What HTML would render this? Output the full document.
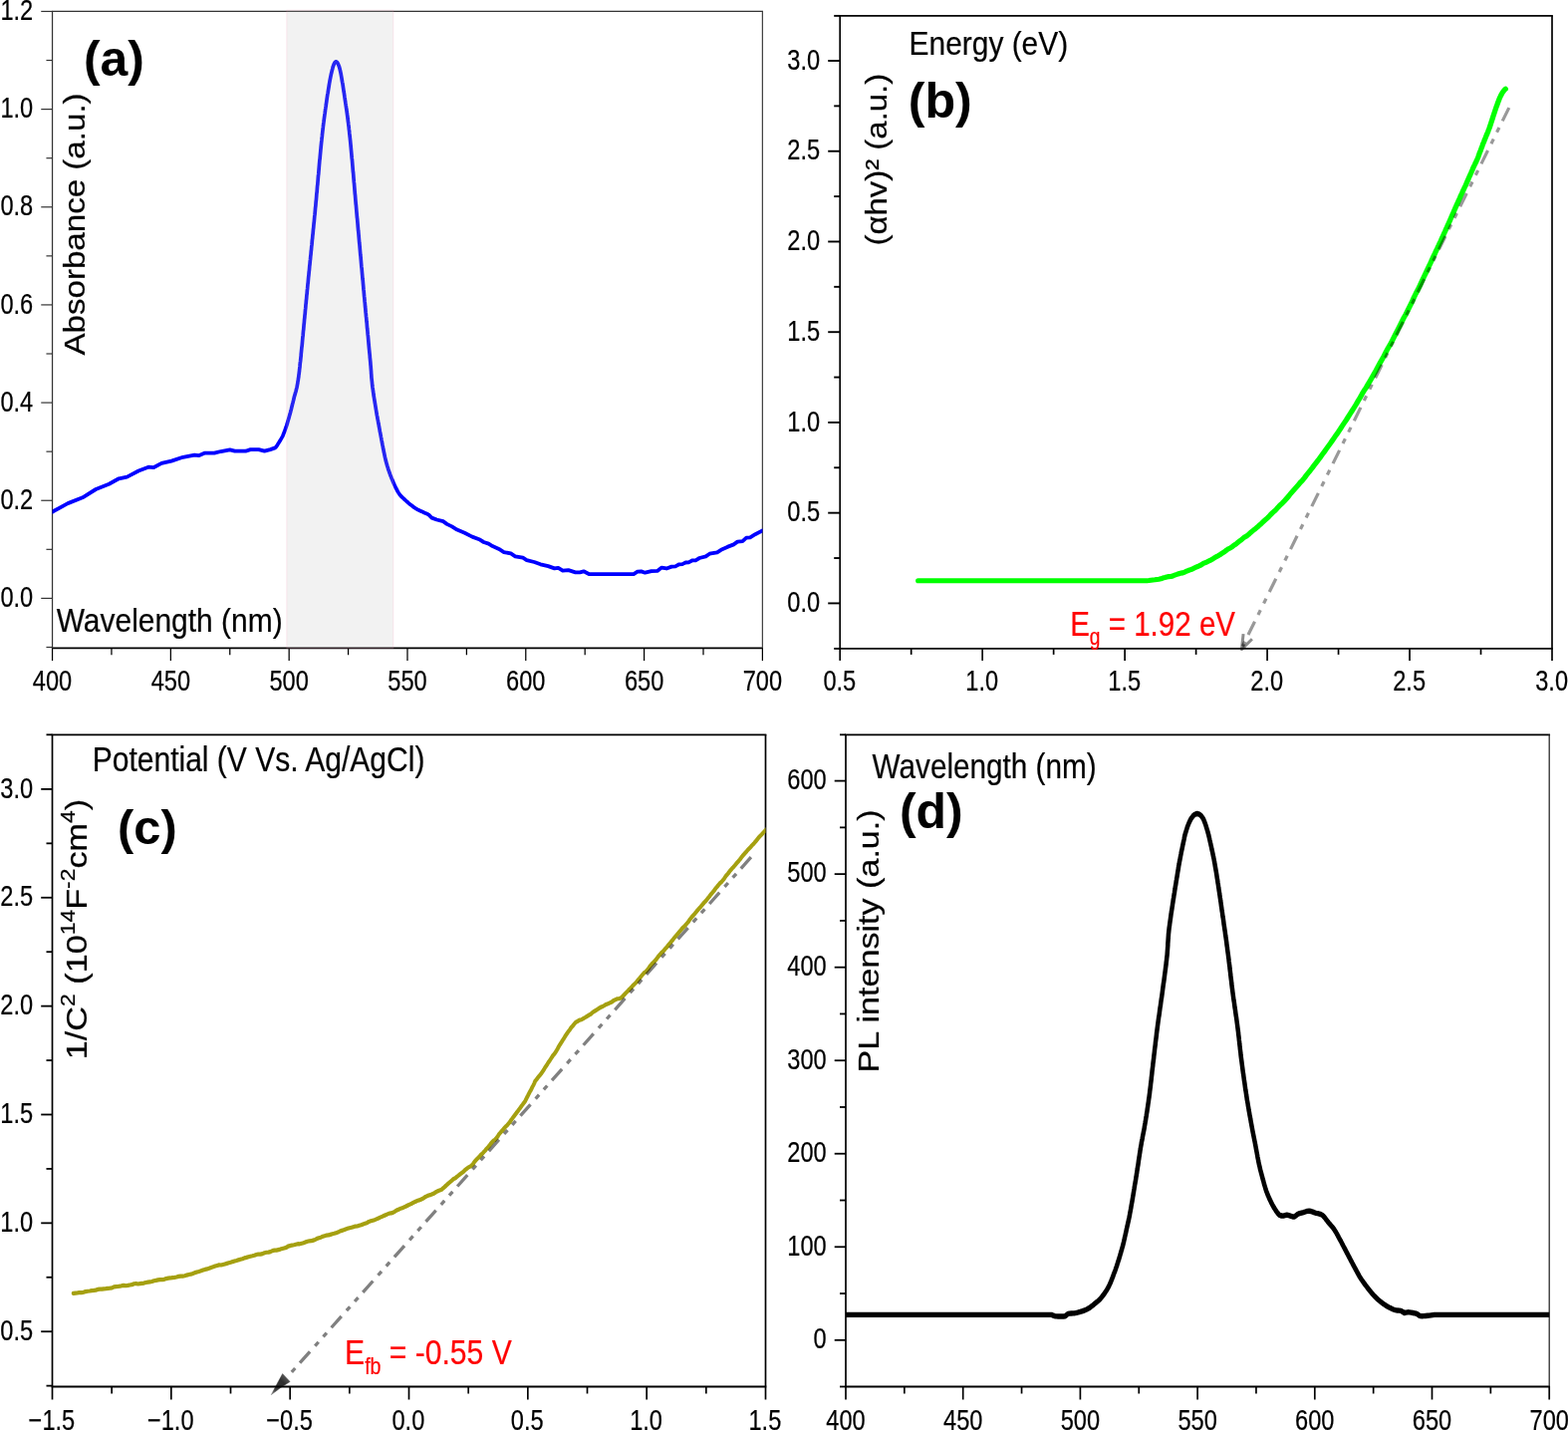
<!DOCTYPE html>
<html lang="en">
<head>
<meta charset="utf-8">
<title>Figure: optical and electrochemical characterisation</title>
<style>
html,body{margin:0;padding:0;background:#fff;}
body{width:1574px;height:1435px;overflow:hidden;}
svg{display:block;font-family:"Liberation Sans", sans-serif;}
text{stroke-linejoin:round;}
</style>
</head>
<body>
<svg width="1574" height="1435" viewBox="0 0 1574 1435">
<defs>
<clipPath id="ca"><rect x="52.55" y="11.45" width="712.85" height="639.00"/></clipPath>
<linearGradient id="ah" gradientUnits="userSpaceOnUse" x1="272.2" y1="1399.7" x2="287.4" y2="1382.4"><stop offset="0" stop-color="#8a8a8a"/><stop offset="0.3" stop-color="#3a3a3a"/><stop offset="0.75" stop-color="#2e2e2e"/><stop offset="1" stop-color="#555"/></linearGradient>
<clipPath id="cc"><rect x="52.50" y="737.30" width="716.00" height="654.20"/></clipPath>
<clipPath id="cd"><rect x="849.00" y="737.30" width="706.20" height="654.20"/></clipPath>
</defs>
<rect width="1574" height="1435" fill="#fff"/>
<path d="M1248.1,636.2 L1246.4,651.6 L1256.9,641.3" fill="none" stroke="#8c8c8c" stroke-width="3" stroke-linejoin="round" stroke-linecap="butt"/>
<path d="M1247.2,645.5 L1246.5,652.6 L1250.6,648.0 Z" fill="#666" stroke="none"/>
<path d="M272.2,1399.7 L283.6,1378.6 L291.1,1386.5 L281.6,1392.6 Z" fill="url(#ah)" stroke="url(#ah)" stroke-width="0.5" stroke-linejoin="round"/>
<line x1="51.92" y1="11.45" x2="766.02" y2="11.45" stroke="#333" stroke-width="1.2"/>
<line x1="51.92" y1="650.45" x2="766.02" y2="650.45" stroke="#000" stroke-width="1.7"/>
<line x1="52.55" y1="11.45" x2="52.55" y2="650.45" stroke="#333" stroke-width="1.25"/>
<line x1="765.40" y1="11.45" x2="765.40" y2="650.45" stroke="#444" stroke-width="1.25"/>
<line x1="46.45" y1="649.48" x2="52.55" y2="649.48" stroke="#333" stroke-width="1.2"/>
<line x1="41.25" y1="600.40" x2="52.55" y2="600.40" stroke="#333" stroke-width="1.2"/>
<text transform="translate(33.25,609.00) scale(0.82,1)" font-size="28.8" text-anchor="end" fill="#000" stroke="#000" stroke-width="0.22">0.0</text>
<line x1="46.45" y1="551.32" x2="52.55" y2="551.32" stroke="#333" stroke-width="1.2"/>
<line x1="41.25" y1="502.24" x2="52.55" y2="502.24" stroke="#333" stroke-width="1.2"/>
<text transform="translate(33.25,510.84) scale(0.82,1)" font-size="28.8" text-anchor="end" fill="#000" stroke="#000" stroke-width="0.22">0.2</text>
<line x1="46.45" y1="453.16" x2="52.55" y2="453.16" stroke="#333" stroke-width="1.2"/>
<line x1="41.25" y1="404.08" x2="52.55" y2="404.08" stroke="#333" stroke-width="1.2"/>
<text transform="translate(33.25,412.68) scale(0.82,1)" font-size="28.8" text-anchor="end" fill="#000" stroke="#000" stroke-width="0.22">0.4</text>
<line x1="46.45" y1="355.00" x2="52.55" y2="355.00" stroke="#333" stroke-width="1.2"/>
<line x1="41.25" y1="305.92" x2="52.55" y2="305.92" stroke="#333" stroke-width="1.2"/>
<text transform="translate(33.25,314.52) scale(0.82,1)" font-size="28.8" text-anchor="end" fill="#000" stroke="#000" stroke-width="0.22">0.6</text>
<line x1="46.45" y1="256.85" x2="52.55" y2="256.85" stroke="#333" stroke-width="1.2"/>
<line x1="41.25" y1="207.77" x2="52.55" y2="207.77" stroke="#333" stroke-width="1.2"/>
<text transform="translate(33.25,216.37) scale(0.82,1)" font-size="28.8" text-anchor="end" fill="#000" stroke="#000" stroke-width="0.22">0.8</text>
<line x1="46.45" y1="158.69" x2="52.55" y2="158.69" stroke="#333" stroke-width="1.2"/>
<line x1="41.25" y1="109.61" x2="52.55" y2="109.61" stroke="#333" stroke-width="1.2"/>
<text transform="translate(33.25,118.21) scale(0.82,1)" font-size="28.8" text-anchor="end" fill="#000" stroke="#000" stroke-width="0.22">1.0</text>
<line x1="46.45" y1="60.53" x2="52.55" y2="60.53" stroke="#333" stroke-width="1.2"/>
<line x1="41.25" y1="11.45" x2="52.55" y2="11.45" stroke="#333" stroke-width="1.2"/>
<text transform="translate(33.25,20.05) scale(0.82,1)" font-size="28.8" text-anchor="end" fill="#000" stroke="#000" stroke-width="0.22">1.2</text>
<line x1="52.55" y1="650.45" x2="52.55" y2="663.05" stroke="#000" stroke-width="1.25"/>
<text transform="translate(52.55,692.55) scale(0.82,1)" font-size="28.8" text-anchor="middle" fill="#000" stroke="#000" stroke-width="0.22">400</text>
<line x1="111.95" y1="650.45" x2="111.95" y2="657.25" stroke="#000" stroke-width="1.25"/>
<line x1="171.36" y1="650.45" x2="171.36" y2="663.05" stroke="#000" stroke-width="1.25"/>
<text transform="translate(171.36,692.55) scale(0.82,1)" font-size="28.8" text-anchor="middle" fill="#000" stroke="#000" stroke-width="0.22">450</text>
<line x1="230.76" y1="650.45" x2="230.76" y2="657.25" stroke="#000" stroke-width="1.25"/>
<line x1="290.17" y1="650.45" x2="290.17" y2="663.05" stroke="#000" stroke-width="1.25"/>
<text transform="translate(290.17,692.55) scale(0.82,1)" font-size="28.8" text-anchor="middle" fill="#000" stroke="#000" stroke-width="0.22">500</text>
<line x1="349.57" y1="650.45" x2="349.57" y2="657.25" stroke="#000" stroke-width="1.25"/>
<line x1="408.98" y1="650.45" x2="408.98" y2="663.05" stroke="#000" stroke-width="1.25"/>
<text transform="translate(408.98,692.55) scale(0.82,1)" font-size="28.8" text-anchor="middle" fill="#000" stroke="#000" stroke-width="0.22">550</text>
<line x1="468.38" y1="650.45" x2="468.38" y2="657.25" stroke="#000" stroke-width="1.25"/>
<line x1="527.78" y1="650.45" x2="527.78" y2="663.05" stroke="#000" stroke-width="1.25"/>
<text transform="translate(527.78,692.55) scale(0.82,1)" font-size="28.8" text-anchor="middle" fill="#000" stroke="#000" stroke-width="0.22">600</text>
<line x1="587.19" y1="650.45" x2="587.19" y2="657.25" stroke="#000" stroke-width="1.25"/>
<line x1="646.59" y1="650.45" x2="646.59" y2="663.05" stroke="#000" stroke-width="1.25"/>
<text transform="translate(646.59,692.55) scale(0.82,1)" font-size="28.8" text-anchor="middle" fill="#000" stroke="#000" stroke-width="0.22">650</text>
<line x1="706.00" y1="650.45" x2="706.00" y2="657.25" stroke="#000" stroke-width="1.25"/>
<line x1="765.40" y1="650.45" x2="765.40" y2="663.05" stroke="#000" stroke-width="1.25"/>
<text transform="translate(765.40,692.55) scale(0.82,1)" font-size="28.8" text-anchor="middle" fill="#000" stroke="#000" stroke-width="0.22">700</text>
<g clip-path="url(#ca)"><polyline transform="scale(1,1.03)" points="51.0,499.61 53.2,498.35 68.1,490.39 82.9,484.76 96.2,476.70 109.4,471.55 119.3,466.31 127.5,464.66 139.1,458.74 149.0,455.05 154.0,455.53 162.2,451.36 172.1,449.13 183.7,445.44 195.3,443.40 199.4,443.88 205.2,441.46 215.1,441.46 221.7,439.81 230.8,438.25 235.7,439.51 246.5,439.51 251.4,437.96 259.7,437.96 265.5,439.51 271.3,437.96 276.2,436.31 277.0,435.55 277.7,434.59 278.5,433.51 279.2,432.38 279.9,431.28 280.5,430.29 281.4,428.98 282.1,427.75 282.8,426.55 283.5,425.34 284.1,424.11 284.6,422.89 285.1,421.66 285.6,420.39 286.1,419.05 286.6,417.66 287.1,416.28 287.6,414.95 288.0,413.71 288.4,412.52 288.7,411.34 289.1,410.10 289.5,408.78 289.9,407.42 290.3,406.03 290.7,404.66 291.1,403.31 291.5,401.97 291.8,400.62 292.2,399.22 292.5,398.07 292.8,396.89 293.1,395.69 293.4,394.49 293.7,393.30 294.0,392.23 294.2,391.28 294.5,390.27 294.8,389.03 295.2,387.38 295.4,386.49 295.7,385.58 296.0,384.61 296.3,383.60 296.6,382.51 297.0,381.36 297.3,380.13 297.6,378.80 298.0,377.37 298.3,375.83 298.6,374.17 298.8,373.30 298.9,372.46 299.0,371.66 299.2,370.87 299.3,370.09 299.4,369.31 299.5,368.51 299.7,367.68 299.8,366.82 299.9,365.91 300.0,364.94 300.2,363.90 300.3,362.78 300.5,361.57 300.6,360.25 300.8,358.81 301.0,357.25 301.1,355.55 301.3,353.70 301.6,351.70 301.8,349.51 301.9,348.71 302.0,347.88 302.1,347.02 302.2,346.15 302.2,345.25 302.3,344.33 302.4,343.38 302.5,342.42 302.6,341.44 302.7,340.44 302.8,339.42 302.9,338.38 303.1,337.32 303.2,336.25 303.3,335.16 303.4,334.06 303.5,332.93 303.6,331.80 303.7,330.65 303.8,329.49 303.9,328.31 304.1,327.13 304.2,325.93 304.3,324.72 304.4,323.50 304.5,322.27 304.7,321.03 304.8,319.78 304.9,318.53 305.0,317.26 305.1,315.99 305.3,314.72 305.4,313.43 305.5,312.15 305.6,310.86 305.8,309.56 305.9,308.26 306.0,306.96 306.2,305.66 306.3,304.35 306.4,303.04 306.5,301.74 306.7,300.43 306.8,299.13 306.9,297.82 307.0,296.52 307.2,295.22 307.3,293.92 307.4,292.63 307.6,291.34 307.7,290.06 307.8,288.78 307.9,287.51 308.1,286.25 308.2,284.99 308.3,283.74 308.4,282.50 308.6,281.27 308.7,280.05 308.8,278.83 308.9,277.68 309.0,276.53 309.2,275.37 309.3,274.21 309.4,273.05 309.5,271.88 309.6,270.71 309.7,269.54 309.9,268.37 310.0,267.19 310.1,266.01 310.2,264.83 310.4,263.64 310.5,262.46 310.6,261.27 310.7,260.08 310.8,258.89 311.0,257.70 311.1,256.51 311.2,255.31 311.3,254.12 311.5,252.92 311.6,251.72 311.7,250.53 311.8,249.33 312.0,248.13 312.1,246.93 312.2,245.73 312.3,244.54 312.5,243.34 312.6,242.14 312.7,240.94 312.8,239.75 313.0,238.55 313.1,237.35 313.2,236.16 313.3,234.97 313.4,233.77 313.6,232.58 313.7,231.40 313.8,230.21 313.9,229.02 314.1,227.84 314.2,226.66 314.3,225.48 314.4,224.30 314.5,223.12 314.7,221.95 314.8,220.78 314.9,219.61 315.0,218.45 315.1,217.29 315.3,216.13 315.4,214.98 315.5,213.83 315.6,212.68 315.7,211.53 315.8,210.39 316.0,209.26 316.1,208.13 316.2,207.00 316.3,205.88 316.4,204.76 316.5,203.52 316.6,202.28 316.8,201.04 316.9,199.79 317.0,198.55 317.1,197.30 317.2,196.05 317.4,194.79 317.5,193.54 317.6,192.28 317.7,191.03 317.8,189.77 317.9,188.51 318.1,187.26 318.2,186.00 318.3,184.75 318.4,183.50 318.5,182.25 318.6,181.00 318.8,179.75 318.9,178.51 319.0,177.26 319.1,176.03 319.2,174.79 319.3,173.56 319.4,172.34 319.5,171.11 319.7,169.90 319.8,168.68 319.9,167.48 320.0,166.28 320.1,165.08 320.2,163.90 320.3,162.72 320.4,161.54 320.5,160.37 320.6,159.22 320.7,158.07 320.8,156.92 320.9,155.79 321.1,154.66 321.2,153.55 321.3,152.44 321.4,151.35 321.5,150.26 321.6,149.19 321.7,148.12 321.8,147.07 321.9,146.03 322.0,145.00 322.1,143.98 322.2,142.98 322.3,141.99 322.4,141.01 322.5,140.04 322.6,139.09 322.7,138.16 322.9,136.61 323.0,135.11 323.2,133.64 323.4,132.20 323.5,130.80 323.7,129.42 323.8,128.08 324.0,126.76 324.1,125.47 324.3,124.21 324.4,122.97 324.6,121.76 324.7,120.57 324.9,119.40 325.0,118.25 325.2,117.12 325.3,116.01 325.5,114.92 325.6,113.84 325.8,112.78 325.9,111.73 326.1,110.69 326.2,109.66 326.4,108.64 326.5,107.63 326.6,106.63 326.8,105.63 326.9,104.64 327.1,103.66 327.2,102.67 327.4,101.69 327.5,100.71 327.7,99.72 327.8,98.74 328.0,97.35 328.2,95.97 328.4,94.60 328.6,93.25 328.8,91.92 329.1,90.60 329.3,89.30 329.5,88.02 329.7,86.76 329.9,85.53 330.1,84.31 330.3,83.12 330.5,81.95 330.7,80.81 330.9,79.70 331.1,78.61 331.3,77.56 331.5,76.53 331.7,75.53 331.9,74.57 332.1,73.64 332.3,72.75 332.5,71.89 332.7,71.07 333.2,69.02 333.7,67.17 334.1,65.52 334.6,64.08 335.1,62.85 335.5,61.84 336.0,61.06 336.4,60.51 336.9,60.19 337.5,60.12 338.1,60.39 338.7,61.03 339.3,62.05 339.9,63.47 340.6,65.31 341.2,67.57 341.4,68.36 341.6,69.19 341.8,70.08 342.0,71.01 342.2,71.99 342.4,73.02 342.6,74.08 342.8,75.19 343.0,76.33 343.2,77.51 343.4,78.72 343.6,79.96 343.9,81.22 344.1,82.52 344.3,83.84 344.5,85.17 344.7,86.53 344.9,87.91 345.1,89.29 345.4,90.70 345.6,92.11 345.8,93.53 346.0,94.95 346.2,95.94 346.3,96.92 346.5,97.90 346.6,98.86 346.8,99.83 346.9,100.79 347.1,101.76 347.2,102.73 347.4,103.70 347.5,104.68 347.7,105.66 347.8,106.66 348.0,107.67 348.1,108.69 348.3,109.73 348.4,110.78 348.6,111.86 348.7,112.95 348.9,114.07 349.0,115.21 349.2,116.38 349.3,117.58 349.5,118.81 349.7,120.08 349.8,121.37 350.0,122.70 350.2,124.08 350.3,125.49 350.5,126.94 350.7,128.43 350.8,129.98 351.0,131.57 351.2,133.20 351.3,134.11 351.4,135.04 351.5,135.98 351.6,136.94 351.7,137.91 351.8,138.90 351.9,139.90 352.0,140.92 352.1,141.95 352.2,143.00 352.3,144.06 352.4,145.13 352.5,146.21 352.6,147.31 352.7,148.41 352.8,149.53 352.9,150.66 353.0,151.80 353.1,152.95 353.2,154.11 353.4,155.27 353.5,156.45 353.6,157.63 353.7,158.83 353.8,160.03 353.9,161.23 354.0,162.45 354.1,163.67 354.2,164.89 354.3,166.12 354.4,167.36 354.6,168.60 354.7,169.85 354.8,171.09 354.9,172.35 355.0,173.60 355.1,174.86 355.2,176.12 355.3,177.38 355.5,178.64 355.6,179.91 355.7,181.17 355.8,182.44 355.9,183.70 356.0,184.96 356.1,186.23 356.2,187.49 356.3,188.75 356.5,190.00 356.6,191.26 356.7,192.51 356.8,193.76 356.9,195.00 357.0,196.24 357.1,197.47 357.2,198.70 357.4,199.93 357.5,201.14 357.6,202.36 357.7,203.56 357.8,204.76 357.9,205.91 358.0,207.07 358.1,208.23 358.2,209.40 358.3,210.56 358.4,211.73 358.6,212.90 358.7,214.07 358.8,215.24 358.9,216.41 359.0,217.58 359.1,218.76 359.2,219.94 359.3,221.11 359.4,222.29 359.5,223.47 359.6,224.66 359.8,225.84 359.9,227.02 360.0,228.20 360.1,229.39 360.2,230.57 360.3,231.76 360.4,232.95 360.5,234.13 360.6,235.32 360.7,236.51 360.9,237.69 361.0,238.88 361.1,240.07 361.2,241.26 361.3,242.44 361.4,243.63 361.5,244.82 361.6,246.01 361.7,247.19 361.8,248.38 362.0,249.56 362.1,250.75 362.2,251.93 362.3,253.12 362.4,254.30 362.5,255.48 362.6,256.66 362.7,257.84 362.8,259.02 362.9,260.20 363.1,261.38 363.2,262.55 363.3,263.73 363.4,264.90 363.5,266.07 363.6,267.24 363.7,268.41 363.8,269.57 363.9,270.74 364.0,271.90 364.2,273.06 364.3,274.22 364.4,275.38 364.5,276.53 364.6,277.68 364.7,278.83 364.8,280.05 364.9,281.27 365.0,282.50 365.2,283.74 365.3,284.99 365.4,286.25 365.5,287.51 365.6,288.78 365.8,290.06 365.9,291.34 366.0,292.63 366.1,293.92 366.3,295.22 366.4,296.52 366.5,297.82 366.6,299.13 366.8,300.43 366.9,301.74 367.0,303.04 367.1,304.35 367.3,305.66 367.4,306.96 367.5,308.26 367.7,309.56 367.8,310.86 367.9,312.15 368.0,313.43 368.2,314.72 368.3,315.99 368.4,317.26 368.5,318.53 368.6,319.78 368.8,321.03 368.9,322.27 369.0,323.50 369.1,324.72 369.2,325.93 369.4,327.13 369.5,328.31 369.6,329.49 369.7,330.65 369.8,331.80 369.9,332.93 370.0,334.06 370.1,335.16 370.2,336.25 370.3,337.32 370.4,338.38 370.5,339.42 370.6,340.44 370.7,341.44 370.8,342.42 370.9,343.38 371.0,344.33 371.1,345.25 371.2,346.15 371.3,347.02 371.3,347.88 371.4,348.71 371.5,349.51 371.7,351.68 371.9,353.66 372.0,355.45 372.2,357.08 372.3,358.57 372.4,359.91 372.5,361.14 372.6,362.27 372.6,363.30 372.7,364.26 372.8,365.16 372.8,366.02 372.9,366.85 372.9,367.66 373.0,368.47 373.1,369.30 373.2,370.15 373.3,371.05 373.4,372.01 373.5,373.05 373.6,374.17 373.7,375.35 373.9,376.51 374.0,377.68 374.2,378.83 374.4,379.99 374.5,381.15 374.7,382.30 374.9,383.46 375.0,384.61 375.2,385.77 375.4,386.93 375.6,388.09 375.8,389.26 376.0,390.43 376.2,391.61 376.4,392.79 376.6,393.98 376.8,395.18 377.0,396.39 377.2,397.61 377.4,398.83 377.6,399.97 377.8,401.13 378.0,402.31 378.2,403.51 378.4,404.72 378.7,405.94 378.9,407.17 379.1,408.40 379.4,409.64 379.6,410.88 379.8,412.12 380.1,413.36 380.3,414.59 380.5,415.81 380.8,417.02 381.0,418.22 381.2,419.40 381.4,420.57 381.7,421.71 381.9,422.83 382.1,423.92 382.3,424.99 382.5,426.02 382.8,427.38 383.0,428.73 383.3,430.05 383.5,431.34 383.8,432.62 384.0,433.86 384.3,435.08 384.5,436.27 384.7,437.44 385.0,438.57 385.2,439.67 385.4,440.75 385.7,441.79 385.9,442.80 386.1,443.78 386.3,444.72 386.5,445.63 386.9,447.22 387.2,448.64 387.6,449.93 387.9,451.10 388.2,452.19 388.5,453.23 388.8,454.25 389.2,455.26 389.5,456.31 389.9,457.65 390.4,458.93 390.8,460.16 391.3,461.36 391.7,462.54 392.2,463.73 392.7,464.95 393.1,466.04 393.6,467.13 394.1,468.22 394.5,469.31 395.0,470.40 395.5,471.48 396.0,472.54 396.5,473.59 397.1,474.80 397.7,476.02 398.4,477.24 399.0,478.43 399.7,479.56 400.4,480.61 401.0,481.55 401.9,482.64 402.7,483.50 403.5,484.26 404.4,485.03 405.4,485.92 406.2,486.66 407.1,487.45 408.0,488.27 409.0,489.10 409.9,489.93 410.9,490.72 411.8,491.46 412.9,492.27 413.9,493.05 414.9,493.80 416.0,494.51 417.0,495.19 418.1,495.83 419.4,496.52 420.7,497.15 422.0,497.73 423.3,498.29 424.5,498.83 425.8,499.41 427.1,500.00 428.4,500.55 429.4,501.02 430.2,501.36 433.4,504.47 438.4,506.31 444.8,507.86 448.6,510.58 453.7,513.01 458.8,516.12 466.4,519.22 474.0,522.91 481.0,525.44 485.5,528.16 490.5,529.71 494.4,532.14 502.0,535.53 505.8,537.96 512.8,539.22 517.2,542.04 524.9,543.30 528.7,545.73 536.3,547.57 542.6,549.81 550.3,551.55 556.6,553.79 560.4,553.20 564.9,556.02 570.6,555.53 577.6,557.57 582.1,557.57 585.9,556.60 591.6,559.42 636.1,559.42 639.9,556.99 643.7,556.70 647.5,557.96 653.9,556.41 660.2,556.12 664.0,553.01 669.1,553.88 674.2,552.04 678.0,551.84 681.8,549.81 685.0,549.61 688.2,548.06 691.3,547.96 695.2,545.92 698.3,545.92 702.1,543.69 708.5,542.14 712.3,539.51 719.9,538.25 723.8,535.73 730.1,532.91 736.5,530.49 740.3,527.77 745.4,527.38 749.2,523.88 753.0,523.69 758.1,520.58 764.4,517.48 767.5,515.92" fill="none" stroke="#0000ff" stroke-width="3.7" stroke-linejoin="round" stroke-linecap="round"/></g>
<rect x="287.8" y="10.2" width="107.0" height="640.2" fill="#bebebe" fill-opacity="0.2" stroke="#ff7ab0" stroke-opacity="0.16" stroke-width="1"/>
<text transform="translate(83.90,76.03) scale(1.0111,1)" font-size="49.36" fill="#000" font-weight="bold">(a)</text>
<text transform="translate(84.64,356.50) rotate(-90) scale(1.1114,1)" font-size="29.79" fill="#000" stroke="#000" stroke-width="0.22">Absorbance (a.u.)</text>
<text transform="translate(56.70,634.34) scale(0.8912,1)" font-size="33.62" fill="#000" stroke="#000" stroke-width="0.22">Wavelength (nm)</text>
<line x1="842.35" y1="15.90" x2="1558.85" y2="15.90" stroke="#000" stroke-width="1.9"/>
<line x1="842.35" y1="650.90" x2="1558.85" y2="650.90" stroke="#000" stroke-width="1.9"/>
<line x1="843.20" y1="15.90" x2="843.20" y2="650.90" stroke="#000" stroke-width="1.7"/>
<line x1="1558.00" y1="15.90" x2="1558.00" y2="650.90" stroke="#000" stroke-width="1.7"/>
<line x1="837.20" y1="650.90" x2="843.20" y2="650.90" stroke="#000" stroke-width="1.9"/>
<line x1="831.20" y1="605.40" x2="843.20" y2="605.40" stroke="#000" stroke-width="1.9"/>
<text transform="translate(823.20,614.00) scale(0.82,1)" font-size="28.8" text-anchor="end" fill="#000" stroke="#000" stroke-width="0.22">0.0</text>
<line x1="837.20" y1="560.03" x2="843.20" y2="560.03" stroke="#000" stroke-width="1.9"/>
<line x1="831.20" y1="514.67" x2="843.20" y2="514.67" stroke="#000" stroke-width="1.9"/>
<text transform="translate(823.20,523.27) scale(0.82,1)" font-size="28.8" text-anchor="end" fill="#000" stroke="#000" stroke-width="0.22">0.5</text>
<line x1="837.20" y1="469.30" x2="843.20" y2="469.30" stroke="#000" stroke-width="1.9"/>
<line x1="831.20" y1="423.93" x2="843.20" y2="423.93" stroke="#000" stroke-width="1.9"/>
<text transform="translate(823.20,432.53) scale(0.82,1)" font-size="28.8" text-anchor="end" fill="#000" stroke="#000" stroke-width="0.22">1.0</text>
<line x1="837.20" y1="378.57" x2="843.20" y2="378.57" stroke="#000" stroke-width="1.9"/>
<line x1="831.20" y1="333.20" x2="843.20" y2="333.20" stroke="#000" stroke-width="1.9"/>
<text transform="translate(823.20,341.80) scale(0.82,1)" font-size="28.8" text-anchor="end" fill="#000" stroke="#000" stroke-width="0.22">1.5</text>
<line x1="837.20" y1="287.83" x2="843.20" y2="287.83" stroke="#000" stroke-width="1.9"/>
<line x1="831.20" y1="242.47" x2="843.20" y2="242.47" stroke="#000" stroke-width="1.9"/>
<text transform="translate(823.20,251.07) scale(0.82,1)" font-size="28.8" text-anchor="end" fill="#000" stroke="#000" stroke-width="0.22">2.0</text>
<line x1="837.20" y1="197.10" x2="843.20" y2="197.10" stroke="#000" stroke-width="1.9"/>
<line x1="831.20" y1="151.73" x2="843.20" y2="151.73" stroke="#000" stroke-width="1.9"/>
<text transform="translate(823.20,160.33) scale(0.82,1)" font-size="28.8" text-anchor="end" fill="#000" stroke="#000" stroke-width="0.22">2.5</text>
<line x1="837.20" y1="106.37" x2="843.20" y2="106.37" stroke="#000" stroke-width="1.9"/>
<line x1="831.20" y1="61.00" x2="843.20" y2="61.00" stroke="#000" stroke-width="1.9"/>
<text transform="translate(823.20,69.60) scale(0.82,1)" font-size="28.8" text-anchor="end" fill="#000" stroke="#000" stroke-width="0.22">3.0</text>
<line x1="837.20" y1="15.90" x2="843.20" y2="15.90" stroke="#000" stroke-width="1.9"/>
<line x1="843.20" y1="650.90" x2="843.20" y2="662.90" stroke="#000" stroke-width="1.7"/>
<text transform="translate(842.80,693.40) scale(0.82,1)" font-size="28.8" text-anchor="middle" fill="#000" stroke="#000" stroke-width="0.22">0.5</text>
<line x1="914.68" y1="650.90" x2="914.68" y2="656.90" stroke="#000" stroke-width="1.7"/>
<line x1="986.16" y1="650.90" x2="986.16" y2="662.90" stroke="#000" stroke-width="1.7"/>
<text transform="translate(985.76,693.40) scale(0.82,1)" font-size="28.8" text-anchor="middle" fill="#000" stroke="#000" stroke-width="0.22">1.0</text>
<line x1="1057.64" y1="650.90" x2="1057.64" y2="656.90" stroke="#000" stroke-width="1.7"/>
<line x1="1129.12" y1="650.90" x2="1129.12" y2="662.90" stroke="#000" stroke-width="1.7"/>
<text transform="translate(1128.72,693.40) scale(0.82,1)" font-size="28.8" text-anchor="middle" fill="#000" stroke="#000" stroke-width="0.22">1.5</text>
<line x1="1200.60" y1="650.90" x2="1200.60" y2="656.90" stroke="#000" stroke-width="1.7"/>
<line x1="1272.08" y1="650.90" x2="1272.08" y2="662.90" stroke="#000" stroke-width="1.7"/>
<text transform="translate(1271.68,693.40) scale(0.82,1)" font-size="28.8" text-anchor="middle" fill="#000" stroke="#000" stroke-width="0.22">2.0</text>
<line x1="1343.56" y1="650.90" x2="1343.56" y2="656.90" stroke="#000" stroke-width="1.7"/>
<line x1="1415.04" y1="650.90" x2="1415.04" y2="662.90" stroke="#000" stroke-width="1.7"/>
<text transform="translate(1414.64,693.40) scale(0.82,1)" font-size="28.8" text-anchor="middle" fill="#000" stroke="#000" stroke-width="0.22">2.5</text>
<line x1="1486.52" y1="650.90" x2="1486.52" y2="656.90" stroke="#000" stroke-width="1.7"/>
<line x1="1558.00" y1="650.90" x2="1558.00" y2="662.90" stroke="#000" stroke-width="1.7"/>
<text transform="translate(1557.60,693.40) scale(0.82,1)" font-size="28.8" text-anchor="middle" fill="#000" stroke="#000" stroke-width="0.22">3.0</text>
<g><polyline transform="scale(1,0.96)" points="921.7,606.98 1151.3,606.98 1153.3,606.79 1155.3,606.45 1157.3,606.19 1159.3,606.04 1161.3,605.71 1163.3,605.36 1165.3,604.96 1167.3,604.19 1169.3,603.73 1171.3,603.21 1173.3,602.69 1175.3,602.65 1177.3,602.07 1179.3,601.10 1181.3,600.46 1183.3,599.77 1185.3,599.07 1187.3,598.82 1189.3,598.06 1191.3,596.94 1193.3,596.13 1195.3,595.51 1197.3,594.64 1199.3,593.51 1201.3,592.58 1203.3,591.73 1205.3,590.74 1207.3,589.42 1209.3,588.38 1211.3,587.61 1213.3,586.51 1215.3,585.53 1217.3,584.38 1219.3,582.98 1221.3,581.77 1223.3,580.66 1225.3,579.40 1227.3,578.06 1229.3,576.73 1231.3,575.00 1233.3,573.62 1235.3,572.65 1237.3,571.21 1239.3,569.64 1241.3,568.15 1243.3,566.44 1245.3,564.89 1247.3,563.14 1249.3,561.53 1251.3,560.41 1253.3,558.74 1255.3,556.80 1257.3,555.07 1259.3,553.47 1261.3,551.68 1263.3,549.96 1265.3,548.12 1267.3,546.14 1269.3,544.23 1271.3,542.42 1273.3,540.45 1275.3,538.13 1277.3,536.10 1279.3,534.29 1281.3,532.20 1283.3,529.86 1285.3,527.71 1287.3,525.83 1289.3,523.62 1291.3,521.33 1293.3,519.06 1295.3,516.26 1297.3,513.92 1299.3,511.57 1301.3,509.17 1303.3,506.78 1305.3,504.32 1307.3,502.29 1309.3,499.75 1311.3,496.86 1313.3,494.26 1315.3,491.76 1317.3,489.10 1319.3,486.20 1321.3,483.48 1323.3,480.85 1325.3,478.06 1327.3,475.16 1329.3,472.31 1331.3,469.40 1333.3,466.48 1335.3,463.68 1337.3,460.69 1339.3,457.68 1341.3,454.63 1343.3,451.75 1345.3,448.64 1347.3,445.35 1349.3,442.18 1351.3,439.12 1353.3,435.88 1355.3,432.56 1357.3,429.26 1359.3,426.00 1361.3,422.63 1363.3,419.03 1365.3,415.60 1367.3,411.82 1369.3,408.32 1371.3,405.23 1373.3,401.67 1375.3,398.15 1377.3,394.53 1379.3,390.84 1381.3,387.15 1383.3,383.23 1385.3,379.49 1387.3,375.80 1389.3,372.00 1391.3,367.85 1393.3,363.98 1395.3,360.48 1397.3,356.55 1399.3,352.44 1401.3,348.45 1403.3,344.26 1405.3,340.22 1407.3,336.01 1409.3,331.91 1411.3,328.28 1413.3,324.12 1415.3,320.02 1417.3,315.81 1419.3,311.00 1421.3,306.74 1423.3,302.89 1425.3,298.57 1427.3,293.97 1429.3,289.60 1431.3,285.25 1433.3,280.82 1435.3,276.37 1435.7,275.56 1436.1,274.60 1436.6,273.50 1437.1,272.27 1437.7,270.94 1438.4,269.51 1439.0,267.99 1439.8,266.41 1440.5,264.77 1441.2,263.08 1442.0,261.38 1442.8,259.65 1443.5,257.93 1444.3,256.22 1445.0,254.54 1445.8,252.90 1446.5,251.32 1447.1,249.81 1447.8,248.38 1448.4,247.05 1448.9,245.83 1449.7,243.89 1450.5,242.11 1451.2,240.45 1451.9,238.91 1452.5,237.45 1453.1,236.06 1453.7,234.71 1454.2,233.37 1454.8,232.02 1455.4,230.65 1456.0,229.22 1456.6,227.71 1457.2,226.26 1457.8,224.80 1458.5,223.32 1459.1,221.83 1459.7,220.33 1460.3,218.83 1461.0,217.33 1461.6,215.83 1462.2,214.34 1462.9,212.87 1463.5,211.40 1464.1,209.96 1464.7,208.54 1465.4,207.03 1466.0,205.54 1466.6,204.07 1467.3,202.61 1467.9,201.17 1468.5,199.73 1469.2,198.30 1469.8,196.88 1470.4,195.45 1471.1,194.02 1471.7,192.59 1472.3,191.15 1472.9,189.66 1473.6,188.13 1474.2,186.56 1474.9,184.97 1475.6,183.38 1476.2,181.80 1476.9,180.27 1477.5,178.78 1478.1,177.37 1478.6,176.05 1479.1,174.84 1479.6,173.75 1480.5,171.83 1481.0,170.65 1481.5,169.73 1482.0,168.56 1482.8,166.67 1483.3,165.48 1483.8,164.13 1484.3,162.66 1484.9,161.08 1485.4,159.43 1486.1,157.74 1486.7,156.02 1487.3,154.33 1487.9,152.67 1488.4,151.08 1489.0,149.58 1489.7,147.85 1490.3,146.16 1491.0,144.51 1491.6,142.90 1492.2,141.30 1492.9,139.73 1493.5,138.18 1494.0,136.64 1494.6,135.10 1495.2,133.39 1495.8,131.71 1496.3,130.05 1496.8,128.40 1497.3,126.78 1497.8,125.17 1498.3,123.57 1498.8,121.98 1499.3,120.38 1499.8,118.78 1500.3,117.19 1500.8,115.61 1501.3,114.05 1501.8,112.54 1502.3,111.08 1502.8,109.69 1503.4,107.90 1504.0,106.17 1504.7,104.52 1505.2,102.96 1505.8,101.52 1506.4,100.21 1507.3,98.48 1508.1,97.02 1508.9,95.79 1509.6,94.79 1510.6,93.57 1511.3,93.02" fill="none" stroke="#00ff00" stroke-width="5.3" stroke-linejoin="round" stroke-linecap="round"/></g>
<path d="M1514.8,108.1 L1247.0,649.1" fill="none" stroke="#999" stroke-width="3.2" stroke-dasharray="14.8 7.45 5.3 7.45 5.3 7.65" style="mix-blend-mode:multiply"/>
<text transform="translate(912.61,54.93) scale(0.9015,1)" font-size="33.19" fill="#000" stroke="#000" stroke-width="0.22">Energy (eV)</text>
<text transform="translate(911.79,117.76) scale(0.9991,1)" font-size="50.21" fill="#000" font-weight="bold">(b)</text>
<text transform="translate(889.72,246.48) rotate(-90) scale(1.1022,1)" font-size="29.89" fill="#000" stroke="#000" stroke-width="0.22">(αhv)² (a.u.)</text>
<text transform="translate(1074.14,637.85) scale(0.8258,1)" font-size="35.78" fill="#ff0000" stroke="#ff0000" stroke-width="0.22">E<tspan style="font-size:0.65em" dy="0.4em">g</tspan><tspan dy="-0.26em"> = 1.92 eV</tspan></text>
<line x1="51.65" y1="737.30" x2="769.35" y2="737.30" stroke="#000" stroke-width="1.8"/>
<line x1="51.65" y1="1391.50" x2="769.35" y2="1391.50" stroke="#000" stroke-width="1.8"/>
<line x1="52.50" y1="737.30" x2="52.50" y2="1391.50" stroke="#000" stroke-width="1.7"/>
<line x1="768.50" y1="737.30" x2="768.50" y2="1391.50" stroke="#000" stroke-width="1.7"/>
<line x1="46.50" y1="1390.63" x2="52.50" y2="1390.63" stroke="#000" stroke-width="1.8"/>
<line x1="41.20" y1="1336.20" x2="52.50" y2="1336.20" stroke="#000" stroke-width="1.8"/>
<text transform="translate(33.20,1344.80) scale(0.82,1)" font-size="28.8" text-anchor="end" fill="#000" stroke="#000" stroke-width="0.22">0.5</text>
<line x1="46.50" y1="1281.77" x2="52.50" y2="1281.77" stroke="#000" stroke-width="1.8"/>
<line x1="41.20" y1="1227.34" x2="52.50" y2="1227.34" stroke="#000" stroke-width="1.8"/>
<text transform="translate(33.20,1235.94) scale(0.82,1)" font-size="28.8" text-anchor="end" fill="#000" stroke="#000" stroke-width="0.22">1.0</text>
<line x1="46.50" y1="1172.91" x2="52.50" y2="1172.91" stroke="#000" stroke-width="1.8"/>
<line x1="41.20" y1="1118.48" x2="52.50" y2="1118.48" stroke="#000" stroke-width="1.8"/>
<text transform="translate(33.20,1127.08) scale(0.82,1)" font-size="28.8" text-anchor="end" fill="#000" stroke="#000" stroke-width="0.22">1.5</text>
<line x1="46.50" y1="1064.05" x2="52.50" y2="1064.05" stroke="#000" stroke-width="1.8"/>
<line x1="41.20" y1="1009.62" x2="52.50" y2="1009.62" stroke="#000" stroke-width="1.8"/>
<text transform="translate(33.20,1018.22) scale(0.82,1)" font-size="28.8" text-anchor="end" fill="#000" stroke="#000" stroke-width="0.22">2.0</text>
<line x1="46.50" y1="955.19" x2="52.50" y2="955.19" stroke="#000" stroke-width="1.8"/>
<line x1="41.20" y1="900.76" x2="52.50" y2="900.76" stroke="#000" stroke-width="1.8"/>
<text transform="translate(33.20,909.36) scale(0.82,1)" font-size="28.8" text-anchor="end" fill="#000" stroke="#000" stroke-width="0.22">2.5</text>
<line x1="46.50" y1="846.33" x2="52.50" y2="846.33" stroke="#000" stroke-width="1.8"/>
<line x1="41.20" y1="791.90" x2="52.50" y2="791.90" stroke="#000" stroke-width="1.8"/>
<text transform="translate(33.20,800.50) scale(0.82,1)" font-size="28.8" text-anchor="end" fill="#000" stroke="#000" stroke-width="0.22">3.0</text>
<line x1="46.50" y1="737.30" x2="52.50" y2="737.30" stroke="#000" stroke-width="1.8"/>
<line x1="52.50" y1="1391.50" x2="52.50" y2="1404.50" stroke="#000" stroke-width="1.7"/>
<text transform="translate(51.90,1435.00) scale(0.82,1)" font-size="28.8" text-anchor="middle" fill="#000" stroke="#000" stroke-width="0.22">−1.5</text>
<line x1="112.17" y1="1391.50" x2="112.17" y2="1398.50" stroke="#000" stroke-width="1.7"/>
<line x1="171.83" y1="1391.50" x2="171.83" y2="1404.50" stroke="#000" stroke-width="1.7"/>
<text transform="translate(171.23,1435.00) scale(0.82,1)" font-size="28.8" text-anchor="middle" fill="#000" stroke="#000" stroke-width="0.22">−1.0</text>
<line x1="231.50" y1="1391.50" x2="231.50" y2="1398.50" stroke="#000" stroke-width="1.7"/>
<line x1="291.17" y1="1391.50" x2="291.17" y2="1404.50" stroke="#000" stroke-width="1.7"/>
<text transform="translate(290.57,1435.00) scale(0.82,1)" font-size="28.8" text-anchor="middle" fill="#000" stroke="#000" stroke-width="0.22">−0.5</text>
<line x1="350.83" y1="1391.50" x2="350.83" y2="1398.50" stroke="#000" stroke-width="1.7"/>
<line x1="410.50" y1="1391.50" x2="410.50" y2="1404.50" stroke="#000" stroke-width="1.7"/>
<text transform="translate(409.90,1435.00) scale(0.82,1)" font-size="28.8" text-anchor="middle" fill="#000" stroke="#000" stroke-width="0.22">0.0</text>
<line x1="470.17" y1="1391.50" x2="470.17" y2="1398.50" stroke="#000" stroke-width="1.7"/>
<line x1="529.83" y1="1391.50" x2="529.83" y2="1404.50" stroke="#000" stroke-width="1.7"/>
<text transform="translate(529.23,1435.00) scale(0.82,1)" font-size="28.8" text-anchor="middle" fill="#000" stroke="#000" stroke-width="0.22">0.5</text>
<line x1="589.50" y1="1391.50" x2="589.50" y2="1398.50" stroke="#000" stroke-width="1.7"/>
<line x1="649.17" y1="1391.50" x2="649.17" y2="1404.50" stroke="#000" stroke-width="1.7"/>
<text transform="translate(648.57,1435.00) scale(0.82,1)" font-size="28.8" text-anchor="middle" fill="#000" stroke="#000" stroke-width="0.22">1.0</text>
<line x1="708.83" y1="1391.50" x2="708.83" y2="1398.50" stroke="#000" stroke-width="1.7"/>
<line x1="768.50" y1="1391.50" x2="768.50" y2="1404.50" stroke="#000" stroke-width="1.7"/>
<text transform="translate(767.90,1435.00) scale(0.82,1)" font-size="28.8" text-anchor="middle" fill="#000" stroke="#000" stroke-width="0.22">1.5</text>
<g clip-path="url(#cc)"><polyline transform="scale(1,1.08)" points="73.7,1201.76 75.7,1201.44 77.8,1201.24 79.8,1200.96 81.8,1200.98 83.9,1200.70 85.9,1200.04 87.9,1199.75 90.0,1199.51 92.0,1199.22 94.1,1199.01 96.1,1198.73 98.1,1198.11 100.2,1197.83 102.2,1197.82 104.2,1197.53 106.3,1197.35 108.3,1197.07 110.3,1196.92 112.4,1196.64 114.4,1195.77 116.4,1195.49 118.4,1195.37 120.4,1195.08 122.4,1194.62 124.4,1194.33 126.4,1194.64 128.4,1194.36 130.4,1193.97 132.4,1193.68 134.5,1192.85 136.5,1192.57 138.5,1193.06 140.5,1192.78 142.5,1192.47 144.5,1192.19 146.5,1191.64 148.5,1191.35 150.5,1191.03 152.5,1190.74 154.6,1190.04 156.6,1189.71 158.7,1189.27 160.8,1188.95 162.8,1189.05 164.9,1188.73 166.9,1188.01 169.0,1187.69 171.1,1187.47 173.1,1187.15 175.2,1186.87 177.2,1186.54 179.3,1186.04 181.4,1185.72 183.4,1185.76 185.5,1185.43 187.5,1184.82 189.6,1184.23 191.6,1183.97 193.6,1183.38 195.7,1182.52 197.7,1181.92 199.7,1181.43 201.8,1180.84 203.8,1180.13 205.8,1179.54 207.9,1179.08 209.9,1178.49 211.9,1177.72 214.0,1177.13 216.0,1176.39 218.0,1175.88 219.9,1175.38 221.9,1175.47 223.8,1174.97 225.8,1174.46 227.7,1173.95 229.7,1173.45 231.6,1172.94 233.6,1172.31 235.5,1171.80 237.5,1171.29 239.4,1170.68 241.4,1170.17 243.4,1169.69 245.4,1168.88 247.4,1168.40 249.4,1167.84 251.4,1167.36 253.4,1166.93 255.4,1166.45 257.4,1165.78 259.4,1165.30 261.5,1165.40 263.5,1164.91 265.5,1164.13 267.5,1163.65 269.5,1163.53 271.5,1163.05 273.5,1162.19 275.5,1161.70 277.5,1161.70 279.5,1161.22 281.4,1160.73 283.4,1160.15 285.3,1159.67 287.3,1159.18 289.2,1157.99 291.2,1157.51 293.1,1157.02 295.1,1156.71 297.0,1156.23 299.0,1155.74 300.9,1155.84 302.9,1155.36 304.8,1154.87 306.8,1154.02 308.7,1153.54 310.7,1153.05 312.6,1152.99 314.5,1152.43 316.4,1151.87 318.3,1150.82 320.2,1150.26 322.1,1149.70 324.0,1148.87 325.9,1148.31 327.9,1147.75 329.8,1147.65 331.7,1147.09 333.6,1146.53 335.5,1146.09 337.4,1145.53 339.3,1144.97 341.2,1143.98 343.1,1143.42 345.0,1142.84 347.0,1142.10 348.9,1141.52 350.9,1140.94 352.8,1140.56 354.7,1139.97 356.7,1139.39 358.6,1139.34 360.6,1138.75 362.5,1138.17 364.5,1137.42 366.4,1136.83 368.3,1136.25 370.3,1135.13 372.2,1134.55 374.2,1133.97 376.1,1133.49 377.9,1132.75 379.8,1132.01 381.6,1131.15 383.5,1130.41 385.3,1129.67 387.1,1128.89 389.0,1128.15 390.8,1127.41 392.6,1127.28 394.5,1126.54 396.3,1125.80 398.2,1124.55 400.0,1123.81 401.9,1122.98 403.8,1122.47 405.7,1121.65 407.6,1120.82 409.5,1119.90 411.4,1119.08 413.4,1118.25 415.3,1117.21 417.2,1116.39 419.1,1115.56 421.0,1115.19 422.9,1114.36 424.7,1113.57 426.6,1112.28 428.4,1111.49 430.3,1110.69 432.1,1110.33 434.0,1109.54 435.8,1108.75 437.7,1107.52 439.5,1106.73 441.4,1105.93 443.2,1105.40 444.7,1104.16 446.3,1102.92 447.8,1101.50 449.3,1100.26 450.9,1099.02 452.4,1097.83 453.9,1096.59 455.4,1095.35 457.0,1094.69 458.5,1093.45 460.2,1092.26 461.9,1090.94 463.6,1089.76 465.3,1088.58 466.9,1086.98 468.6,1085.79 470.3,1084.61 472.0,1083.91 473.7,1082.73 475.0,1081.34 476.4,1079.40 477.7,1078.02 479.1,1076.63 480.4,1075.40 481.8,1074.02 483.1,1072.64 484.5,1071.64 485.8,1070.25 487.2,1068.87 488.5,1067.31 489.9,1065.92 491.2,1064.54 492.6,1062.71 493.9,1061.32 495.3,1059.94 496.6,1059.30 498.0,1057.80 499.4,1056.30 500.7,1054.15 502.1,1052.66 503.5,1051.16 504.9,1049.70 506.3,1048.20 507.7,1046.70 509.0,1045.63 510.4,1044.13 511.8,1042.63 513.1,1040.70 514.4,1039.13 515.6,1037.57 516.9,1036.00 518.2,1034.41 519.5,1032.84 520.7,1031.27 522.0,1029.71 523.3,1027.95 524.6,1026.39 525.8,1024.82 527.1,1023.26 528.0,1021.56 528.9,1019.85 529.9,1018.14 530.8,1016.43 531.7,1014.73 532.6,1013.43 533.5,1011.72 534.4,1010.01 535.4,1008.30 536.3,1006.59 537.2,1004.60 538.5,1003.08 539.7,1001.56 541.0,1000.05 542.2,998.83 543.5,997.31 544.7,995.65 545.9,993.99 547.0,992.14 548.2,990.48 549.4,988.82 550.5,987.16 551.7,985.57 552.9,983.91 554.1,982.25 555.2,980.59 556.4,979.36 557.6,977.70 558.7,976.12 559.7,974.55 560.8,972.58 561.8,971.00 562.9,969.43 564.0,967.86 565.0,966.36 566.1,964.78 567.1,963.21 568.2,961.64 569.2,960.31 570.3,958.73 571.8,957.08 573.3,954.87 574.9,953.22 576.4,951.57 577.9,949.90 579.8,948.87 581.7,947.84 583.6,947.44 585.5,946.41 587.4,945.38 589.3,944.27 591.2,943.24 593.1,942.21 594.8,940.75 596.5,939.76 598.2,938.77 599.9,937.74 601.6,936.75 603.3,935.76 605.0,935.23 606.7,934.24 608.4,933.26 610.3,932.62 612.2,931.83 614.1,931.03 616.0,929.61 617.9,928.81 619.8,928.01 621.7,927.84 623.6,927.04 625.1,925.63 626.7,924.17 628.2,922.76 629.7,921.36 631.2,919.72 632.8,918.31 634.3,916.90 635.8,915.34 637.4,913.93 638.9,912.53 640.2,910.81 641.6,909.35 642.9,907.90 644.3,906.39 645.6,904.94 647.0,903.48 648.3,902.80 649.7,901.34 651.0,899.89 652.4,897.83 653.7,896.38 655.1,894.92 656.4,893.86 657.8,892.40 659.1,890.95 660.5,889.12 661.8,887.67 663.1,886.23 664.5,884.80 665.8,883.84 667.1,882.41 668.4,880.97 669.8,879.54 671.1,877.92 672.4,876.49 673.7,875.05 675.1,873.62 676.4,871.93 677.7,870.50 679.0,869.07 680.4,867.63 681.7,866.10 683.0,864.67 684.3,863.24 685.7,861.80 687.0,860.82 688.3,859.39 689.6,857.96 691.0,856.52 692.3,854.55 693.6,853.07 694.9,851.59 696.3,850.10 697.6,848.76 698.9,847.27 700.2,845.79 701.6,844.31 702.9,843.11 704.2,841.62 705.5,840.14 706.8,838.66 708.2,837.42 709.5,835.94 710.8,834.46 712.1,832.98 713.4,831.30 714.8,829.82 716.1,828.34 717.4,826.85 718.7,825.09 720.1,823.61 721.4,822.13 722.7,820.65 724.0,819.69 725.4,818.21 726.7,816.72 728.1,814.64 729.4,813.15 730.8,811.67 732.1,810.03 733.4,808.54 734.8,807.05 736.1,805.78 737.5,804.29 738.8,802.80 740.1,801.47 741.5,799.98 742.8,798.49 744.2,796.69 745.5,795.20 746.9,793.71 748.2,792.32 749.6,790.90 750.9,789.48 752.3,788.21 753.7,786.79 755.0,785.37 756.4,784.11 757.7,782.69 759.1,781.26 760.5,779.47 761.8,778.05 763.2,776.63 764.5,775.39 765.9,773.97 767.3,772.55 768.6,771.56 770.0,770.14" fill="none" stroke="#a5a010" stroke-width="3.9" stroke-linejoin="round" stroke-linecap="round"/></g>
<path d="M753.9,860.2 L288.5,1381.7" fill="none" stroke="#808080" stroke-width="3.3" stroke-dasharray="15.2 7.1 5.2 7.1 5.2 7.7" style="mix-blend-mode:multiply"/>
<text transform="translate(92.70,773.81) scale(0.8766,1)" font-size="34.26" fill="#000" stroke="#000" stroke-width="0.22">Potential (V Vs. Ag/AgCl)</text>
<text transform="translate(118.06,846.97) scale(1.0024,1)" font-size="48.72" fill="#000" font-weight="bold">(c)</text>
<text transform="translate(87.14,1063.24) rotate(-90) scale(1.1301,1)" font-size="30.28" fill="#000" stroke="#000" stroke-width="0.22">1/C<tspan style="font-size:0.67em" dy="-0.62em">2</tspan><tspan dy="0.415em"> (10</tspan><tspan style="font-size:0.67em" dy="-0.62em">14</tspan><tspan dy="0.415em">F</tspan><tspan style="font-size:0.67em" dy="-0.62em">-2</tspan><tspan dy="0.415em">cm</tspan><tspan style="font-size:0.67em" dy="-0.62em">4</tspan><tspan dy="0.415em">)</tspan></text>
<text transform="translate(346.09,1369.31) scale(0.8422,1)" font-size="35.73" fill="#ff0000" stroke="#ff0000" stroke-width="0.22">E<tspan style="font-size:0.65em" dy="0.4em">fb</tspan><tspan dy="-0.26em"> = -0.55 V</tspan></text>
<line x1="848.15" y1="737.30" x2="1556.05" y2="737.30" stroke="#000" stroke-width="1.8"/>
<line x1="848.15" y1="1391.50" x2="1556.05" y2="1391.50" stroke="#000" stroke-width="1.8"/>
<line x1="849.00" y1="737.30" x2="849.00" y2="1391.50" stroke="#000" stroke-width="1.7"/>
<line x1="1555.20" y1="737.30" x2="1555.20" y2="1391.50" stroke="#222" stroke-width="1.25"/>
<line x1="843.00" y1="1391.50" x2="849.00" y2="1391.50" stroke="#000" stroke-width="1.8"/>
<line x1="837.70" y1="1344.80" x2="849.00" y2="1344.80" stroke="#000" stroke-width="1.8"/>
<text transform="translate(829.70,1353.10) scale(0.82,1)" font-size="28.8" text-anchor="end" fill="#000" stroke="#000" stroke-width="0.22">0</text>
<line x1="843.00" y1="1298.03" x2="849.00" y2="1298.03" stroke="#000" stroke-width="1.8"/>
<line x1="837.70" y1="1251.27" x2="849.00" y2="1251.27" stroke="#000" stroke-width="1.8"/>
<text transform="translate(829.70,1259.57) scale(0.82,1)" font-size="28.8" text-anchor="end" fill="#000" stroke="#000" stroke-width="0.22">100</text>
<line x1="843.00" y1="1204.50" x2="849.00" y2="1204.50" stroke="#000" stroke-width="1.8"/>
<line x1="837.70" y1="1157.73" x2="849.00" y2="1157.73" stroke="#000" stroke-width="1.8"/>
<text transform="translate(829.70,1166.03) scale(0.82,1)" font-size="28.8" text-anchor="end" fill="#000" stroke="#000" stroke-width="0.22">200</text>
<line x1="843.00" y1="1110.97" x2="849.00" y2="1110.97" stroke="#000" stroke-width="1.8"/>
<line x1="837.70" y1="1064.20" x2="849.00" y2="1064.20" stroke="#000" stroke-width="1.8"/>
<text transform="translate(829.70,1072.50) scale(0.82,1)" font-size="28.8" text-anchor="end" fill="#000" stroke="#000" stroke-width="0.22">300</text>
<line x1="843.00" y1="1017.43" x2="849.00" y2="1017.43" stroke="#000" stroke-width="1.8"/>
<line x1="837.70" y1="970.67" x2="849.00" y2="970.67" stroke="#000" stroke-width="1.8"/>
<text transform="translate(829.70,978.97) scale(0.82,1)" font-size="28.8" text-anchor="end" fill="#000" stroke="#000" stroke-width="0.22">400</text>
<line x1="843.00" y1="923.90" x2="849.00" y2="923.90" stroke="#000" stroke-width="1.8"/>
<line x1="837.70" y1="877.13" x2="849.00" y2="877.13" stroke="#000" stroke-width="1.8"/>
<text transform="translate(829.70,885.43) scale(0.82,1)" font-size="28.8" text-anchor="end" fill="#000" stroke="#000" stroke-width="0.22">500</text>
<line x1="843.00" y1="830.37" x2="849.00" y2="830.37" stroke="#000" stroke-width="1.8"/>
<line x1="837.70" y1="783.60" x2="849.00" y2="783.60" stroke="#000" stroke-width="1.8"/>
<text transform="translate(829.70,791.90) scale(0.82,1)" font-size="28.8" text-anchor="end" fill="#000" stroke="#000" stroke-width="0.22">600</text>
<line x1="843.00" y1="737.30" x2="849.00" y2="737.30" stroke="#000" stroke-width="1.8"/>
<line x1="849.00" y1="1391.50" x2="849.00" y2="1404.50" stroke="#000" stroke-width="1.7"/>
<text transform="translate(849.00,1434.60) scale(0.82,1)" font-size="28.8" text-anchor="middle" fill="#000" stroke="#000" stroke-width="0.22">400</text>
<line x1="907.85" y1="1391.50" x2="907.85" y2="1398.50" stroke="#000" stroke-width="1.7"/>
<line x1="966.70" y1="1391.50" x2="966.70" y2="1404.50" stroke="#000" stroke-width="1.7"/>
<text transform="translate(966.70,1434.60) scale(0.82,1)" font-size="28.8" text-anchor="middle" fill="#000" stroke="#000" stroke-width="0.22">450</text>
<line x1="1025.55" y1="1391.50" x2="1025.55" y2="1398.50" stroke="#000" stroke-width="1.7"/>
<line x1="1084.40" y1="1391.50" x2="1084.40" y2="1404.50" stroke="#000" stroke-width="1.7"/>
<text transform="translate(1084.40,1434.60) scale(0.82,1)" font-size="28.8" text-anchor="middle" fill="#000" stroke="#000" stroke-width="0.22">500</text>
<line x1="1143.25" y1="1391.50" x2="1143.25" y2="1398.50" stroke="#000" stroke-width="1.7"/>
<line x1="1202.10" y1="1391.50" x2="1202.10" y2="1404.50" stroke="#000" stroke-width="1.7"/>
<text transform="translate(1202.10,1434.60) scale(0.82,1)" font-size="28.8" text-anchor="middle" fill="#000" stroke="#000" stroke-width="0.22">550</text>
<line x1="1260.95" y1="1391.50" x2="1260.95" y2="1398.50" stroke="#000" stroke-width="1.7"/>
<line x1="1319.80" y1="1391.50" x2="1319.80" y2="1404.50" stroke="#000" stroke-width="1.7"/>
<text transform="translate(1319.80,1434.60) scale(0.82,1)" font-size="28.8" text-anchor="middle" fill="#000" stroke="#000" stroke-width="0.22">600</text>
<line x1="1378.65" y1="1391.50" x2="1378.65" y2="1398.50" stroke="#000" stroke-width="1.7"/>
<line x1="1437.50" y1="1391.50" x2="1437.50" y2="1404.50" stroke="#000" stroke-width="1.7"/>
<text transform="translate(1437.50,1434.60) scale(0.82,1)" font-size="28.8" text-anchor="middle" fill="#000" stroke="#000" stroke-width="0.22">650</text>
<line x1="1496.35" y1="1391.50" x2="1496.35" y2="1398.50" stroke="#000" stroke-width="1.7"/>
<line x1="1555.20" y1="1391.50" x2="1555.20" y2="1404.50" stroke="#000" stroke-width="1.7"/>
<text transform="translate(1555.20,1434.60) scale(0.82,1)" font-size="28.8" text-anchor="middle" fill="#000" stroke="#000" stroke-width="0.22">700</text>
<g clip-path="url(#cd)"><polyline transform="scale(1,1.2)" points="849.0,1099.50 1040.0,1099.50 1048.0,1099.50 1049.2,1099.50 1050.9,1099.48 1052.8,1099.47 1054.6,1099.50 1056.0,1099.58 1057.4,1100.13 1059.0,1100.67 1060.3,1100.75 1062.1,1100.82 1064.0,1100.86 1065.9,1100.85 1067.7,1100.79 1069.0,1100.67 1070.7,1099.70 1072.1,1098.67 1073.6,1098.44 1075.3,1098.34 1077.2,1098.26 1079.0,1098.08 1080.7,1097.80 1082.5,1097.46 1084.2,1097.06 1086.0,1096.58 1087.4,1096.15 1088.9,1095.67 1090.3,1095.15 1091.7,1094.59 1093.0,1094.00 1094.5,1093.20 1095.8,1092.34 1097.2,1091.43 1098.5,1090.50 1099.9,1089.56 1101.3,1088.61 1102.7,1087.60 1104.1,1086.50 1105.1,1085.54 1106.1,1084.52 1107.1,1083.45 1108.1,1082.36 1109.0,1081.25 1109.9,1080.14 1110.8,1079.01 1111.6,1077.86 1112.4,1076.66 1113.2,1075.42 1113.8,1074.35 1114.4,1073.28 1115.0,1072.18 1115.5,1071.02 1116.1,1069.81 1116.7,1068.50 1117.3,1067.29 1117.8,1066.01 1118.4,1064.66 1119.1,1063.29 1119.7,1061.90 1120.2,1060.52 1120.8,1059.17 1121.3,1057.85 1121.8,1056.55 1122.3,1055.26 1122.8,1053.96 1123.3,1052.65 1123.8,1051.30 1124.3,1049.92 1124.7,1048.66 1125.2,1047.38 1125.6,1046.07 1126.1,1044.74 1126.5,1043.40 1127.0,1042.07 1127.4,1040.73 1127.8,1039.42 1128.2,1038.11 1128.5,1036.81 1128.9,1035.51 1129.2,1034.21 1129.6,1032.91 1129.9,1031.61 1130.3,1030.31 1130.6,1029.00 1130.9,1027.71 1131.3,1026.43 1131.6,1025.17 1132.0,1023.90 1132.3,1022.61 1132.7,1021.29 1133.0,1019.92 1133.4,1018.50 1133.7,1017.32 1134.0,1016.11 1134.2,1014.88 1134.5,1013.62 1134.8,1012.34 1135.1,1011.04 1135.4,1009.73 1135.6,1008.41 1135.9,1007.08 1136.2,1005.75 1136.5,1004.53 1136.7,1003.29 1137.0,1002.04 1137.2,1000.78 1137.5,999.51 1137.7,998.23 1138.0,996.95 1138.2,995.67 1138.5,994.38 1138.7,993.11 1139.0,991.83 1139.2,990.58 1139.5,989.37 1139.7,988.17 1140.0,986.98 1140.2,985.79 1140.4,984.57 1140.7,983.33 1140.9,982.05 1141.2,980.71 1141.4,979.31 1141.7,977.83 1141.9,976.69 1142.1,975.50 1142.4,974.28 1142.6,973.01 1142.8,971.72 1143.0,970.41 1143.3,969.07 1143.5,967.72 1143.8,966.36 1144.0,965.00 1144.3,963.64 1144.5,962.29 1144.8,960.95 1145.0,959.63 1145.3,958.33 1145.6,957.06 1145.8,955.81 1146.1,954.57 1146.4,953.34 1146.7,952.12 1146.9,950.90 1147.2,949.68 1147.5,948.45 1147.8,947.21 1148.1,945.96 1148.4,944.69 1148.7,943.39 1148.9,942.07 1149.2,940.72 1149.5,939.33 1149.7,938.16 1150.0,936.97 1150.2,935.78 1150.4,934.58 1150.7,933.36 1150.9,932.14 1151.1,930.90 1151.4,929.65 1151.6,928.38 1151.8,927.10 1152.1,925.80 1152.3,924.48 1152.5,923.15 1152.8,921.79 1153.0,920.42 1153.2,919.02 1153.5,917.61 1153.7,916.17 1153.9,915.02 1154.1,913.85 1154.2,912.66 1154.4,911.46 1154.6,910.24 1154.8,909.00 1155.0,907.75 1155.1,906.49 1155.3,905.21 1155.5,903.93 1155.7,902.64 1155.8,901.34 1156.0,900.04 1156.2,898.73 1156.4,897.43 1156.5,896.12 1156.7,894.81 1156.9,893.51 1157.1,892.21 1157.3,890.92 1157.4,889.63 1157.6,888.35 1157.8,887.08 1158.0,885.82 1158.2,884.56 1158.3,883.30 1158.5,882.04 1158.7,880.77 1158.9,879.51 1159.0,878.25 1159.2,876.99 1159.4,875.73 1159.6,874.47 1159.8,873.21 1159.9,871.95 1160.1,870.69 1160.3,869.43 1160.5,868.17 1160.7,866.91 1160.9,865.65 1161.0,864.39 1161.2,863.13 1161.4,861.87 1161.6,860.61 1161.8,859.35 1162.0,858.08 1162.2,856.82 1162.4,855.56 1162.6,854.29 1162.8,853.03 1163.0,851.76 1163.2,850.50 1163.5,849.24 1163.7,847.97 1163.9,846.71 1164.1,845.44 1164.3,844.17 1164.5,842.91 1164.8,841.64 1165.0,840.38 1165.2,839.11 1165.4,837.85 1165.6,836.58 1165.8,835.32 1166.1,834.05 1166.3,832.79 1166.5,831.53 1166.7,830.26 1166.9,829.00 1167.1,827.73 1167.3,826.46 1167.5,825.19 1167.7,823.91 1167.9,822.63 1168.2,821.34 1168.4,820.06 1168.6,818.77 1168.8,817.48 1169.0,816.20 1169.2,814.92 1169.4,813.64 1169.6,812.36 1169.8,811.09 1170.0,809.82 1170.2,808.57 1170.4,807.31 1170.6,806.07 1170.7,804.83 1170.9,803.61 1171.1,802.39 1171.2,801.19 1171.4,800.00 1171.6,798.67 1171.7,797.40 1171.8,796.19 1171.9,795.01 1172.0,793.87 1172.1,792.75 1172.2,791.65 1172.3,790.56 1172.3,789.46 1172.4,788.34 1172.5,787.21 1172.6,786.04 1172.7,784.84 1172.8,783.58 1172.9,782.27 1173.0,780.89 1173.2,779.43 1173.4,777.88 1173.6,776.24 1173.9,774.50 1174.1,773.50 1174.2,772.46 1174.4,771.38 1174.6,770.25 1174.8,769.09 1175.0,767.90 1175.2,766.67 1175.4,765.41 1175.6,764.13 1175.9,762.82 1176.1,761.50 1176.4,760.15 1176.6,758.78 1176.9,757.41 1177.1,756.02 1177.4,754.62 1177.6,753.22 1177.9,751.81 1178.2,750.41 1178.4,749.00 1178.7,747.60 1179.0,746.21 1179.2,744.83 1179.5,743.46 1179.7,742.11 1180.0,740.77 1180.3,739.45 1180.5,738.16 1180.7,736.89 1181.0,735.66 1181.2,734.45 1181.5,733.27 1181.7,732.14 1181.9,731.04 1182.1,729.98 1182.3,728.97 1182.5,728.00 1182.9,726.12 1183.2,724.33 1183.6,722.64 1183.9,721.05 1184.3,719.53 1184.6,718.10 1184.9,716.73 1185.2,715.43 1185.5,714.19 1185.7,713.01 1186.0,711.87 1186.3,710.77 1186.6,709.72 1186.8,708.69 1187.1,707.68 1187.3,706.69 1187.6,705.72 1187.8,704.75 1188.3,702.94 1188.7,701.35 1189.0,699.94 1189.4,698.67 1189.7,697.51 1190.1,696.42 1190.5,695.36 1190.9,694.29 1191.3,693.17 1191.8,691.86 1192.4,690.56 1193.0,689.27 1193.6,688.04 1194.3,686.86 1194.9,685.77 1195.5,684.78 1196.2,683.92 1197.5,682.47 1198.9,681.37 1200.3,680.66 1201.7,680.42 1203.1,680.66 1204.6,681.37 1206.0,682.47 1207.3,683.92 1208.0,684.92 1208.6,686.07 1209.2,687.36 1209.8,688.74 1210.4,690.19 1210.9,691.67 1211.5,693.17 1211.9,694.29 1212.3,695.36 1212.6,696.42 1213.0,697.51 1213.3,698.67 1213.7,699.94 1214.1,701.35 1214.5,702.94 1215.0,704.75 1215.3,705.72 1215.5,706.69 1215.8,707.68 1216.1,708.69 1216.3,709.72 1216.6,710.77 1216.9,711.87 1217.2,713.01 1217.5,714.19 1217.8,715.43 1218.1,716.73 1218.5,718.10 1218.8,719.53 1219.1,721.05 1219.5,722.64 1219.8,724.33 1220.2,726.12 1220.6,728.00 1220.8,728.97 1221.0,729.98 1221.2,731.04 1221.4,732.14 1221.6,733.27 1221.8,734.45 1222.1,735.66 1222.3,736.89 1222.5,738.16 1222.8,739.45 1223.0,740.77 1223.2,742.11 1223.5,743.46 1223.7,744.83 1224.0,746.21 1224.2,747.60 1224.5,749.00 1224.7,750.41 1225.0,751.81 1225.2,753.22 1225.5,754.62 1225.7,756.02 1225.9,757.41 1226.2,758.78 1226.4,760.15 1226.6,761.50 1226.9,762.82 1227.1,764.13 1227.3,765.41 1227.5,766.67 1227.8,767.90 1228.0,769.09 1228.2,770.25 1228.4,771.38 1228.5,772.46 1228.7,773.50 1228.9,774.50 1229.2,776.24 1229.5,777.88 1229.8,779.43 1230.0,780.89 1230.2,782.27 1230.5,783.58 1230.7,784.84 1230.9,786.04 1231.1,787.21 1231.3,788.34 1231.4,789.46 1231.6,790.56 1231.8,791.65 1232.0,792.75 1232.1,793.87 1232.3,795.01 1232.5,796.19 1232.7,797.40 1232.9,798.67 1233.1,800.00 1233.3,801.19 1233.5,802.39 1233.6,803.61 1233.8,804.83 1234.0,806.07 1234.2,807.31 1234.4,808.57 1234.5,809.82 1234.7,811.09 1234.9,812.36 1235.1,813.64 1235.2,814.92 1235.4,816.20 1235.6,817.48 1235.8,818.77 1236.0,820.06 1236.2,821.34 1236.3,822.63 1236.5,823.91 1236.7,825.19 1236.9,826.46 1237.1,827.73 1237.3,829.00 1237.5,830.26 1237.7,831.53 1237.9,832.79 1238.1,834.05 1238.3,835.32 1238.5,836.58 1238.8,837.85 1239.0,839.11 1239.2,840.38 1239.4,841.64 1239.6,842.91 1239.9,844.17 1240.1,845.44 1240.3,846.71 1240.5,847.97 1240.7,849.24 1241.0,850.50 1241.2,851.76 1241.4,853.03 1241.6,854.29 1241.8,855.56 1242.0,856.82 1242.2,858.08 1242.4,859.35 1242.6,860.61 1242.8,861.87 1243.0,863.13 1243.1,864.39 1243.3,865.65 1243.5,866.91 1243.7,868.17 1243.8,869.43 1244.0,870.69 1244.2,871.95 1244.3,873.21 1244.5,874.47 1244.7,875.73 1244.8,876.99 1245.0,878.25 1245.2,879.51 1245.4,880.77 1245.5,882.04 1245.7,883.30 1245.9,884.56 1246.1,885.82 1246.3,887.08 1246.5,888.35 1246.7,889.63 1246.9,890.92 1247.1,892.21 1247.3,893.51 1247.5,894.81 1247.7,896.12 1247.9,897.43 1248.2,898.73 1248.4,900.04 1248.6,901.34 1248.8,902.64 1249.0,903.93 1249.3,905.21 1249.5,906.49 1249.7,907.75 1249.9,909.00 1250.1,910.24 1250.3,911.46 1250.6,912.66 1250.8,913.85 1251.0,915.02 1251.2,916.17 1251.5,917.61 1251.7,919.02 1252.0,920.42 1252.3,921.79 1252.6,923.15 1252.8,924.48 1253.1,925.80 1253.4,927.10 1253.6,928.38 1253.9,929.65 1254.2,930.90 1254.4,932.14 1254.7,933.36 1255.0,934.58 1255.2,935.78 1255.5,936.97 1255.7,938.16 1256.0,939.33 1256.3,940.73 1256.6,942.11 1256.9,943.46 1257.2,944.80 1257.5,946.12 1257.8,947.43 1258.1,948.71 1258.4,949.97 1258.7,951.22 1259.0,952.45 1259.3,953.66 1259.6,954.86 1259.9,956.03 1260.1,957.19 1260.4,958.33 1260.7,959.73 1261.0,961.10 1261.3,962.44 1261.6,963.76 1261.9,965.04 1262.2,966.30 1262.4,967.53 1262.7,968.73 1263.0,969.92 1263.2,971.08 1263.5,972.22 1263.8,973.33 1264.2,974.77 1264.6,976.14 1264.9,977.44 1265.3,978.71 1265.7,979.95 1266.1,981.18 1266.5,982.40 1266.9,983.64 1267.3,984.92 1267.7,986.22 1268.2,987.55 1268.6,988.89 1269.0,990.22 1269.5,991.55 1270.0,992.86 1270.4,994.15 1270.9,995.39 1271.4,996.58 1272.0,997.88 1272.6,999.14 1273.2,1000.36 1273.8,1001.54 1274.4,1002.69 1275.1,1003.80 1275.7,1004.88 1276.3,1005.92 1277.1,1007.26 1278.0,1008.56 1278.8,1009.80 1279.7,1010.95 1280.5,1011.99 1281.2,1012.92 1282.5,1014.38 1283.6,1015.42 1284.7,1016.17 1286.5,1016.71 1288.2,1016.75 1289.9,1016.35 1291.7,1016.00 1293.8,1016.42 1295.9,1017.00 1297.7,1017.50 1299.4,1017.58 1301.0,1016.54 1302.9,1015.25 1304.6,1014.70 1306.6,1014.25 1308.5,1013.83 1310.4,1013.33 1312.2,1012.85 1314.1,1012.67 1315.9,1012.92 1317.7,1013.47 1319.7,1014.08 1321.1,1014.40 1322.7,1014.70 1324.4,1015.06 1326.0,1015.52 1327.4,1016.17 1328.6,1017.03 1329.7,1018.08 1330.7,1019.24 1331.8,1020.46 1332.9,1021.67 1333.9,1022.65 1335.0,1023.65 1336.0,1024.67 1337.1,1025.72 1338.2,1026.83 1339.2,1028.00 1340.0,1029.04 1340.8,1030.11 1341.6,1031.22 1342.3,1032.37 1343.1,1033.57 1343.9,1034.83 1344.8,1036.17 1345.4,1037.16 1346.1,1038.20 1346.8,1039.28 1347.5,1040.39 1348.2,1041.53 1348.9,1042.68 1349.7,1043.83 1350.4,1044.99 1351.1,1046.13 1351.8,1047.25 1352.5,1048.36 1353.2,1049.48 1353.9,1050.59 1354.6,1051.71 1355.3,1052.83 1356.0,1053.94 1356.7,1055.05 1357.4,1056.15 1358.1,1057.25 1358.8,1058.33 1359.6,1059.54 1360.4,1060.75 1361.1,1061.97 1361.9,1063.17 1362.7,1064.36 1363.5,1065.53 1364.2,1066.67 1365.0,1067.78 1365.8,1068.83 1366.8,1070.12 1367.8,1071.35 1368.8,1072.52 1369.8,1073.66 1370.8,1074.76 1371.8,1075.84 1372.8,1076.92 1373.8,1077.99 1374.8,1079.05 1375.8,1080.08 1376.8,1081.10 1377.8,1082.08 1378.8,1083.02 1379.8,1083.92 1381.0,1084.91 1382.1,1085.85 1383.3,1086.74 1384.5,1087.59 1385.6,1088.39 1386.8,1089.17 1388.2,1090.04 1389.6,1090.86 1390.9,1091.62 1392.3,1092.34 1393.7,1093.00 1395.1,1093.63 1396.6,1094.22 1398.0,1094.75 1399.4,1095.21 1400.7,1095.58 1402.7,1095.88 1404.6,1095.96 1406.3,1096.17 1408.2,1097.11 1409.8,1097.92 1411.2,1097.66 1413.3,1097.33 1414.7,1097.44 1416.5,1097.63 1418.4,1097.89 1420.2,1098.19 1421.7,1098.50 1423.3,1099.19 1424.4,1099.97 1425.9,1100.50 1427.5,1100.61 1429.2,1100.55 1431.1,1100.40 1432.9,1100.25 1434.7,1100.08 1436.5,1099.86 1438.2,1099.65 1439.9,1099.50 1441.6,1099.45 1443.4,1099.45 1444.9,1099.48 1446.0,1099.50 1460.0,1099.50 1557.0,1099.50" fill="none" stroke="#000" stroke-width="4.5" stroke-linejoin="round" stroke-linecap="butt"/></g>
<text transform="translate(875.60,781.25) scale(0.8491,1)" font-size="35.0" fill="#000" stroke="#000" stroke-width="0.22">Wavelength (nm)</text>
<text transform="translate(903.00,830.86) scale(1.0134,1)" font-size="49.26" fill="#000" font-weight="bold">(d)</text>
<text transform="translate(881.62,1076.43) rotate(-90) scale(1.1786,1)" font-size="28.94" fill="#000" stroke="#000" stroke-width="0.22">PL intensity (a.u.)</text>
</svg>
</body>
</html>
